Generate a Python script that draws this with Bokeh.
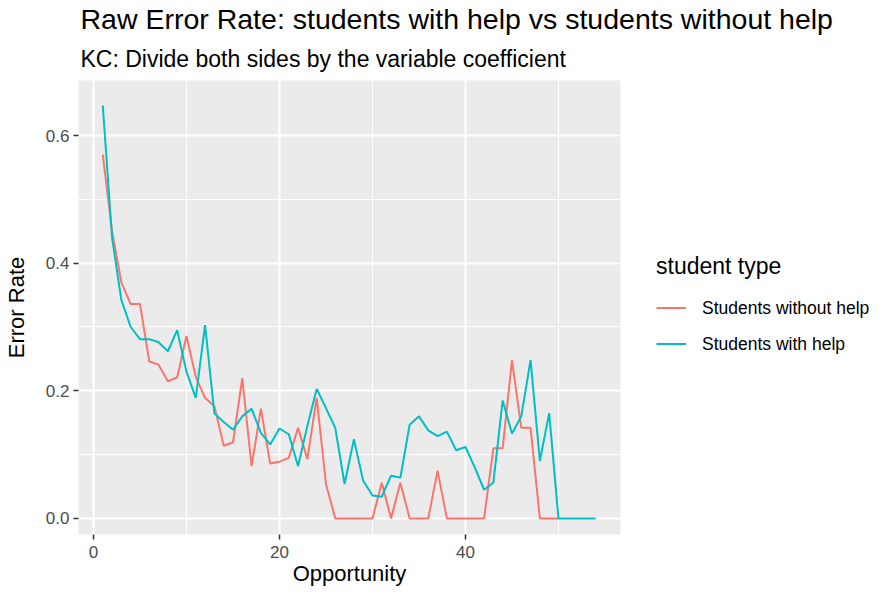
from bokeh.plotting import figure
from bokeh.models import (Range1d, SingleIntervalTicker, PrintfTickFormatter,
                          Legend, LegendItem, Title)
from bokeh.embed import file_html
from bokeh.resources import INLINE

# ---------------- data ----------------
opportunity_without = list(range(1, 51))
error_without = [0.570, 0.450, 0.370, 0.336, 0.336, 0.246, 0.241, 0.215, 0.221, 0.286,
                 0.222, 0.189, 0.176, 0.114, 0.119, 0.220, 0.082, 0.172, 0.086, 0.089,
                 0.095, 0.142, 0.093, 0.189, 0.054, 0.000, 0.000, 0.000, 0.000, 0.000,
                 0.056, 0.000, 0.056, 0.000, 0.000, 0.000, 0.075, 0.000, 0.000, 0.000,
                 0.000, 0.000, 0.110, 0.110, 0.248, 0.142, 0.142, 0.000, 0.000, 0.000]

opportunity_with = list(range(1, 55))
error_with = [0.647, 0.440, 0.342, 0.300, 0.281, 0.281, 0.276, 0.262, 0.295, 0.230,
              0.189, 0.303, 0.165, 0.151, 0.139, 0.160, 0.172, 0.134, 0.116, 0.141,
              0.132, 0.082, 0.145, 0.203, 0.173, 0.142, 0.054, 0.124, 0.059, 0.036,
              0.034, 0.067, 0.064, 0.147, 0.160, 0.138, 0.129, 0.136, 0.107, 0.112,
              0.080, 0.045, 0.056, 0.185, 0.133, 0.160, 0.248, 0.090, 0.165, 0.000,
              0.000, 0.000, 0.000, 0.000]

series_labels = ["Students without help", "Students with help"]
series_colors = ["#F8766D", "#00BFC4"]

title_text = "Raw Error Rate: students with help vs students without help"
subtitle_text = "KC: Divide both sides by the variable coefficient"
x_label = "Opportunity"
y_label = "Error Rate"
legend_title = "student type"

FONT = "Liberation Sans"

# ---------------- figure ----------------
p = figure(frame_width=542, frame_height=454, output_backend="svg",
           toolbar_location=None,
           x_range=Range1d(-1.61, 56.67), y_range=Range1d(-0.0251, 0.6862),
           min_border_left=0, min_border_right=0, min_border_top=0,
           min_border_bottom=0)
p.background_fill_color = "#EBEBEB"
p.border_fill_color = "white"
p.outline_line_color = None

xt = SingleIntervalTicker(interval=20, num_minor_ticks=2)
yt = SingleIntervalTicker(interval=0.2, num_minor_ticks=2)
p.xaxis.ticker = xt
p.xgrid.ticker = xt
p.yaxis.ticker = yt
p.ygrid.ticker = yt
p.xaxis.formatter = PrintfTickFormatter(format="%d")
p.yaxis.formatter = PrintfTickFormatter(format="%.1f")

for g in (p.xgrid, p.ygrid):
    g.grid_line_color = "white"
    g.grid_line_width = 2
    g.minor_grid_line_color = "white"
    g.minor_grid_line_width = 1

for ax in (p.xaxis, p.yaxis):
    ax.axis_line_color = None
    ax.major_tick_line_color = "#333333"
    ax.major_tick_line_width = 1.5
    ax.major_tick_out = 5
    ax.major_tick_in = 0
    ax.minor_tick_line_color = None
    ax.major_label_text_color = "#4D4D4D"
    ax.major_label_text_font = FONT
    ax.major_label_text_font_size = "17px"
    ax.axis_label_text_font = FONT
    ax.axis_label_text_font_size = "22px"
    ax.axis_label_text_font_style = "normal"
    ax.axis_label_text_color = "black"

p.xaxis.axis_label = x_label
p.yaxis.axis_label = y_label
p.xaxis.major_label_standoff = 6
p.yaxis.major_label_standoff = 4
p.xaxis.axis_label_standoff = 0
p.yaxis.axis_label_standoff = 14

r1 = p.line(opportunity_without, error_without, line_color=series_colors[0], line_width=2)
r2 = p.line(opportunity_with, error_with, line_color=series_colors[1], line_width=2)

legend = Legend(items=[LegendItem(label=series_labels[0], renderers=[r1]),
                       LegendItem(label=series_labels[1], renderers=[r2])],
                title=legend_title, title_text_font=FONT, title_text_font_size="23px",
                title_text_font_style="normal", title_text_color="black",
                title_standoff=10,
                label_text_font=FONT, label_text_font_size="17.5px",
                label_text_color="black",
                glyph_width=30, glyph_height=36, label_height=36, spacing=0,
                label_standoff=16, padding=0, margin=36,
                border_line_color=None, background_fill_alpha=0,
                location="center_left")
p.add_layout(legend, "right")

p.add_layout(Title(text=subtitle_text, text_font=FONT, text_font_size="23px",
                   text_font_style="normal", text_color="black", align="left",
                   offset=2, standoff=17), "above")
p.add_layout(Title(text=title_text, text_font=FONT, text_font_size="28.5px",
                   text_font_style="normal", text_color="black", align="left",
                   offset=2, standoff=1), "above")

open("out.html", "w").write(file_html(p, INLINE))
